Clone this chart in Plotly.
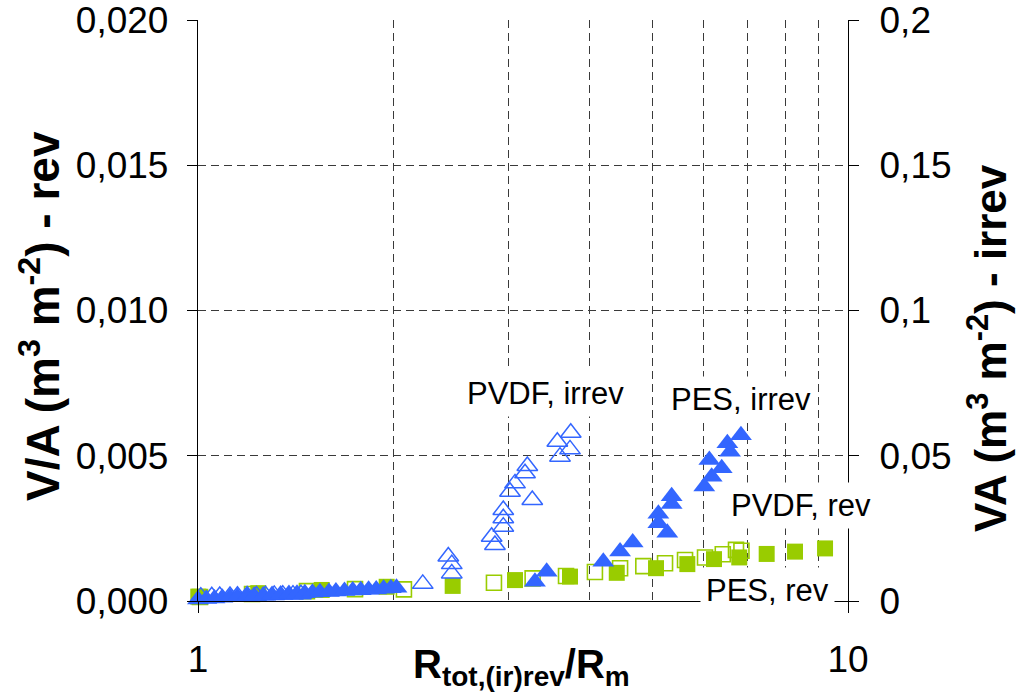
import plotly.graph_objects as go

# ---------------- data ----------------
# PVDF, irrev (open triangles, right axis)
pvdf_irrev_x = [1.01, 1.05, 1.08, 1.12, 1.15, 1.19, 1.23, 1.27, 1.31, 1.35, 1.40, 1.44,
                2.217, 2.427, 2.457, 2.457, 2.830, 2.863, 2.949, 2.949, 2.949, 3.020,
                3.074, 3.185, 3.211, 3.268, 3.571, 3.605, 3.745, 3.735]
pvdf_irrev_y = [0.0015, 0.0016, 0.0017, 0.0017, 0.0018, 0.0019, 0.0019, 0.0020, 0.0021, 0.0022, 0.0022, 0.0023,
                0.0059, 0.0153, 0.0127, 0.0095, 0.0221, 0.0193, 0.0313, 0.0285, 0.0256, 0.0376,
                0.0405, 0.0440, 0.0465, 0.0348, 0.0548, 0.0497, 0.0579, 0.0522]

# PES, irrev (filled triangles, right axis)
pes_irrev_x = [1.00, 1.03, 1.06, 1.09, 1.12, 1.15, 1.19, 1.22, 1.26, 1.30, 1.34, 1.38, 1.42,
               1.46, 1.50, 1.54, 1.59, 1.63, 1.68, 1.73, 1.78, 1.83, 1.88, 1.93, 1.98, 2.02,
               3.299, 3.439, 4.203, 4.460, 4.664, 5.108, 5.108, 5.272, 5.354, 5.354,
               6.010, 6.119, 6.170, 6.393, 6.522, 6.584, 6.844]
pes_irrev_y = [0.0005, 0.0007, 0.0009, 0.0011, 0.0013, 0.0014, 0.0016, 0.0018, 0.0019, 0.0021, 0.0022, 0.0024, 0.0025,
               0.0027, 0.0028, 0.0030, 0.0031, 0.0033, 0.0034, 0.0036, 0.0037, 0.0039, 0.0040, 0.0042, 0.0044, 0.0046,
               0.0066, 0.0101, 0.0135, 0.0170, 0.0201, 0.0300, 0.0268, 0.0235, 0.0361, 0.0334,
               0.0394, 0.0485, 0.0428, 0.0457, 0.0543, 0.0514, 0.0571]

# PVDF, rev (open squares, left axis)
pvdf_rev_x = [1.007, 1.211, 1.471, 1.744, 2.074, 2.853, 3.272, 3.683, 4.080, 4.460, 4.843,
              5.230, 5.614, 6.026, 6.417, 6.725, 6.856]
pvdf_rev_y = [0.00014, 0.00024, 0.00034, 0.00041, 0.00040, 0.00063, 0.00078, 0.00086, 0.00100, 0.00113, 0.00120,
              0.00130, 0.00141, 0.00150, 0.00161, 0.00176, 0.00173]

# PES, rev (filled squares, left axis)
pes_rev_x = [1.001, 1.238, 1.550, 1.951, 2.465, 3.074, 3.735, 4.408, 5.066, 5.660, 6.221,
             6.803, 7.497, 8.289, 9.219]
pes_rev_y = [0.00015, 0.00027, 0.00038, 0.00049, 0.00052, 0.00072, 0.00084, 0.00097, 0.00113, 0.00127, 0.00144,
             0.00150, 0.00162, 0.00170, 0.00181]

x_tickvals = [1, 10]
x_ticktext = ["1", "10"]
x_gridvals = [2, 3, 4, 5, 6, 7, 8, 9]
y_tickvals = [0, 0.005, 0.010, 0.015, 0.020]
y_ticktext = ["0,000", "0,005", "0,010", "0,015", "0,020"]
y2_tickvals = [0, 0.05, 0.10, 0.15, 0.20]
y2_ticktext = ["0", "0,05", "0,1", "0,15", "0,2"]

BLUE = "#3366FF"
GREEN = "#99CC00"
FONT = "Liberation Sans, Arial, sans-serif"
GRID = "#3a3a3a"

fig = go.Figure()
fig.add_trace(go.Scatter(x=pvdf_rev_x, y=pvdf_rev_y, mode="markers", name="PVDF, rev",
                         marker=dict(symbol="square-open", size=15, color=GREEN, line=dict(width=1.6)),
                         cliponaxis=False))
fig.add_trace(go.Scatter(x=pes_rev_x, y=pes_rev_y, mode="markers", name="PES, rev",
                         marker=dict(symbol="square", size=16, color=GREEN, line=dict(width=0)),
                         cliponaxis=False))
fig.add_trace(go.Scatter(x=pvdf_irrev_x, y=pvdf_irrev_y, mode="markers", name="PVDF, irrev", yaxis="y2",
                         marker=dict(symbol="triangle-up-open", size=18, color=BLUE, line=dict(width=1.5)),
                         cliponaxis=False))
fig.add_trace(go.Scatter(x=pes_irrev_x, y=pes_irrev_y, mode="markers", name="PES, irrev", yaxis="y2",
                         marker=dict(symbol="triangle-up", size=19, color=BLUE, line=dict(width=0)),
                         cliponaxis=False))

axis_common = dict(showline=True, linecolor="black", linewidth=1.3, ticks="outside",
                   tickcolor="black", tickwidth=1.3, zeroline=False, automargin=False,
                   tickfont=dict(family=FONT, size=37, color="black"))

fig.update_layout(
    width=1016, height=698,
    margin=dict(l=198, r=168, t=20, b=97, autoexpand=False),
    paper_bgcolor="white", plot_bgcolor="white",
    showlegend=False,
    font=dict(family=FONT, color="black"),
    xaxis=dict(type="log", range=[0, 1], tickvals=x_tickvals, ticktext=x_ticktext,
               ticklen=11, showgrid=False, ticklabelstandoff=14,
               minor=dict(tickvals=x_gridvals, showgrid=True, gridcolor=GRID, gridwidth=1,
                          griddash="8px,5px", ticks=""),
               **axis_common),
    yaxis=dict(range=[0, 0.020002], tickvals=y_tickvals, ticktext=y_ticktext, ticklen=10,
               showgrid=True, gridcolor=GRID, gridwidth=1, griddash="8px,5px",
               ticklabelstandoff=11, **axis_common),
    yaxis2=dict(range=[0, 0.20002], tickvals=y2_tickvals, ticktext=y2_ticktext, ticklen=10,
                overlaying="y", side="right", anchor="x", showgrid=False,
                ticklabelstandoff=13, **axis_common),
)

def px_to_paper(px, py):
    return (px - 198) / 650, (601 - py) / 581

labels = [("PVDF, irrev", 545, 393), ("PES, irrev", 741, 399),
          ("PVDF, rev", 801, 505), ("PES, rev", 767, 590)]
for txt, px, py in labels:
    ax, ay = px_to_paper(px, py)
    fig.add_annotation(text=txt, xref="paper", yref="paper", x=ax, y=ay, showarrow=False,
                       xanchor="center", yanchor="middle", bgcolor="white", borderpad=5,
                       font=dict(family=FONT, size=31, color="black"))

# axis titles
tx, ty = px_to_paper(40, 316)
fig.add_annotation(text="<b>V/A (m<sup>3</sup> m<sup>-2</sup>) - rev</b>", xref="paper", yref="paper",
                   x=tx, y=ty, textangle=-90, showarrow=False, xanchor="center", yanchor="middle",
                   font=dict(family=FONT, size=46, color="black"))
tx, ty = px_to_paper(987, 348)
fig.add_annotation(text="<b>VA (m<sup>3</sup> m<sup>-2</sup>) - irrev</b>", xref="paper", yref="paper",
                   x=tx, y=ty, textangle=-90, showarrow=False, xanchor="center", yanchor="middle",
                   font=dict(family=FONT, size=44, color="black"))
tx, ty = px_to_paper(521, 667)
fig.add_annotation(text="<b>R<sub>tot,(ir)rev</sub>/R<sub>m</sub></b>", xref="paper", yref="paper",
                   x=tx, y=ty, showarrow=False, xanchor="center", yanchor="middle",
                   font=dict(family=FONT, size=40, color="black"))

fig.write_html("out.html")
